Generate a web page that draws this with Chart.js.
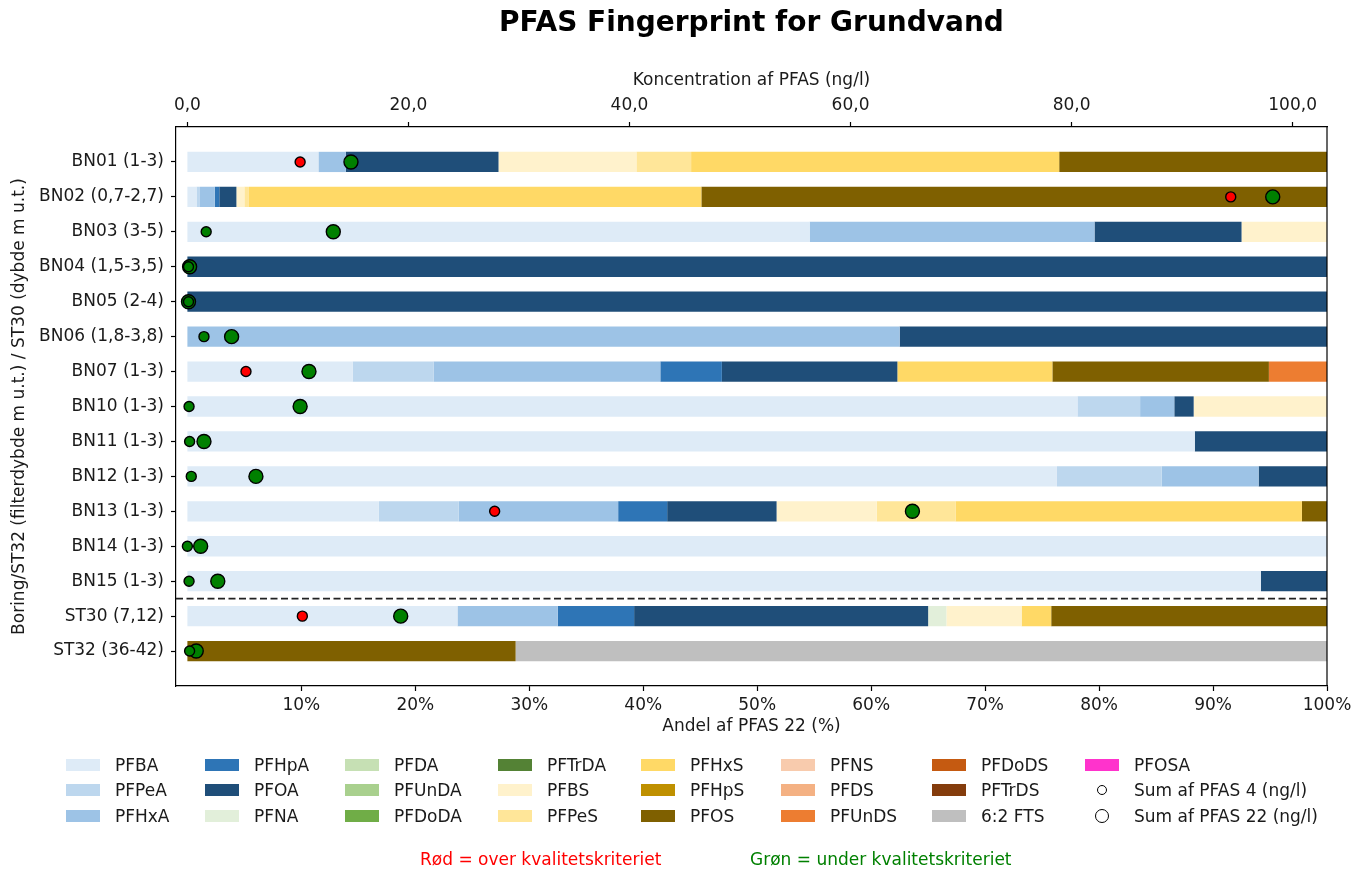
<!DOCTYPE html>
<html lang="da">
<head>
<meta charset="utf-8">
<title>PFAS Fingerprint for Grundvand</title>
<script src="https://cdn.jsdelivr.net/npm/chart.js@4.4.1/dist/chart.umd.min.js"></script>
<style>
  html, body { margin: 0; padding: 0; background: #fff; }
  #wrap { position: relative; width: 1366px; height: 870px; font-family: 'DejaVu Sans', sans-serif; color: #1a1a1a; }
  #pfasChart { position: absolute; left: 0; top: 0; }
  #legend {
    position: absolute; left: 66px; top: 752px;
    display: grid;
    grid-template-columns: 139px 140px 153px 143px 140px 151px 153px auto;
    grid-template-rows: repeat(3, 25.5px);
    grid-auto-flow: column;
    font-size: 17px;
  }
  .item { display: flex; align-items: center; white-space: nowrap; }
  .swatch { width: 34px; height: 12px; margin-right: 15px; flex: none; }
  .mk { width: 34px; height: 16px; margin-right: 15px; flex: none; display: flex; align-items: center; justify-content: center; }
  .mk span { border: 1.5px solid #000; border-radius: 50%; box-sizing: border-box; background: #fff; }
  .note { position: absolute; top: 849px; font-size: 17px; white-space: nowrap; }
</style>
</head>
<body>
<div id="wrap">
  <canvas id="pfasChart" width="1366" height="870"></canvas>
  <div id="legend"></div>
  <div class="note" style="left:420px; color:#ff0000;">Rød = over kvalitetskriteriet</div>
  <div class="note" style="left:750px; color:#008000;">Grøn = under kvalitetskriteriet</div>
</div>
<script>
// boringer / filtre (top til bund)
const sites = ['BN01 (1-3)', 'BN02 (0,7-2,7)', 'BN03 (3-5)', 'BN04 (1,5-3,5)', 'BN05 (2-4)',
  'BN06 (1,8-3,8)', 'BN07 (1-3)', 'BN10 (1-3)', 'BN11 (1-3)', 'BN12 (1-3)', 'BN13 (1-3)',
  'BN14 (1-3)', 'BN15 (1-3)', 'ST30 (7,12)', 'ST32 (36-42)'];

// andel af PFAS 22 (%) pr. stof, samme rækkefølge som sites
const pfba   = [11.5, 0.8, 54.6, 0, 0, 0, 14.5, 78.1, 88.4, 76.3, 16.8, 100, 94.2, 23.7, 0];
const pfpea  = [0, 0.3, 0, 0, 0, 0, 7.1, 5.5, 0, 9.2, 7.0, 0, 0, 0, 0];
const pfhxa  = [2.4, 1.3, 25.0, 0, 0, 62.5, 19.9, 3.0, 0, 8.5, 14.0, 0, 0, 8.8, 0];
const pfhpa  = [0, 0.4, 0, 0, 0, 0, 5.4, 0, 0, 0, 4.3, 0, 0, 6.7, 0];
const pfoa   = [13.4, 1.5, 12.9, 100, 100, 37.5, 15.4, 1.7, 11.6, 6.0, 9.6, 0, 5.8, 25.8, 0];
const pfna   = [0, 0, 0, 0, 0, 0, 0, 0, 0, 0, 0, 0, 0, 1.6, 0];
const pfda   = [0, 0, 0, 0, 0, 0, 0, 0, 0, 0, 0, 0, 0, 0, 0];
const pfunda = [0, 0, 0, 0, 0, 0, 0, 0, 0, 0, 0, 0, 0, 0, 0];
const pfdoda = [0, 0, 0, 0, 0, 0, 0, 0, 0, 0, 0, 0, 0, 0, 0];
const pftrda = [0, 0, 0, 0, 0, 0, 0, 0, 0, 0, 0, 0, 0, 0, 0];
const pfbs   = [12.1, 0.7, 7.5, 0, 0, 0, 0, 11.7, 0, 0, 8.8, 0, 0, 6.6, 0];
const pfpes  = [4.8, 0.4, 0, 0, 0, 0, 0, 0, 0, 0, 6.9, 0, 0, 0, 0];
const pfhxs  = [32.3, 39.7, 0, 0, 0, 0, 13.6, 0, 0, 0, 30.4, 0, 0, 2.6, 0];
const pfhps  = [0, 0, 0, 0, 0, 0, 0, 0, 0, 0, 0, 0, 0, 0, 0];
const pfos   = [23.5, 54.9, 0, 0, 0, 0, 19.0, 0, 0, 0, 2.2, 0, 0, 24.2, 28.8];
const pfns   = [0, 0, 0, 0, 0, 0, 0, 0, 0, 0, 0, 0, 0, 0, 0];
const pfds   = [0, 0, 0, 0, 0, 0, 0, 0, 0, 0, 0, 0, 0, 0, 0];
const pfunds = [0, 0, 0, 0, 0, 0, 5.1, 0, 0, 0, 0, 0, 0, 0, 0];
const pfdods = [0, 0, 0, 0, 0, 0, 0, 0, 0, 0, 0, 0, 0, 0, 0];
const pftrds = [0, 0, 0, 0, 0, 0, 0, 0, 0, 0, 0, 0, 0, 0, 0];
const fts62  = [0, 0, 0, 0, 0, 0, 0, 0, 0, 0, 0, 0, 0, 0, 71.2];
const pfosa  = [0, 0, 0, 0, 0, 0, 0, 0, 0, 0, 0, 0, 0, 0, 0];

// koncentrationer (ng/l)
const sum4  = [10.2, 94.4, 1.7, 0.1, 0.1, 1.5, 5.3, 0.15, 0.2, 0.35, 27.8, 0.0, 0.15, 10.4, 0.2];
const sum22 = [14.8, 98.2, 13.2, 0.2, 0.1, 4.0, 11.0, 10.2, 1.5, 6.2, 65.6, 1.2, 2.75, 19.3, 0.8];
const limit4 = 2;     // kvalitetskriterium sum af PFAS 4
const limit22 = 100;  // kvalitetskriterium sum af PFAS 22

// akse-ticks
const pctTicks = [10, 20, 30, 40, 50, 60, 70, 80, 90, 100];
const concTicks = [0, 20, 40, 60, 80, 100];

const series = [
  { name: 'PFBA',    values: pfba,   color: '#deebf7' },
  { name: 'PFPeA',   values: pfpea,  color: '#bdd7ee' },
  { name: 'PFHxA',   values: pfhxa,  color: '#9dc3e6' },
  { name: 'PFHpA',   values: pfhpa,  color: '#2e75b6' },
  { name: 'PFOA',    values: pfoa,   color: '#1f4e79' },
  { name: 'PFNA',    values: pfna,   color: '#e2efda' },
  { name: 'PFDA',    values: pfda,   color: '#c6e0b4' },
  { name: 'PFUnDA',  values: pfunda, color: '#a9d08e' },
  { name: 'PFDoDA',  values: pfdoda, color: '#70ad47' },
  { name: 'PFTrDA',  values: pftrda, color: '#548235' },
  { name: 'PFBS',    values: pfbs,   color: '#fff2cc' },
  { name: 'PFPeS',   values: pfpes,  color: '#ffe699' },
  { name: 'PFHxS',   values: pfhxs,  color: '#ffd966' },
  { name: 'PFHpS',   values: pfhps,  color: '#bf9000' },
  { name: 'PFOS',    values: pfos,   color: '#7f6000' },
  { name: 'PFNS',    values: pfns,   color: '#f8cbad' },
  { name: 'PFDS',    values: pfds,   color: '#f4b183' },
  { name: 'PFUnDS',  values: pfunds, color: '#ed7d31' },
  { name: 'PFDoDS',  values: pfdods, color: '#c55a11' },
  { name: 'PFTrDS',  values: pftrds, color: '#843c0c' },
  { name: '6:2 FTS', values: fts62,  color: '#bfbfbf' },
  { name: 'PFOSA',   values: pfosa,  color: '#ff33cc' }
];

const RED = '#ff0000', GREEN = '#008000';
const TXT = '#1a1a1a';
Chart.defaults.font.family = "'DejaVu Sans', sans-serif";
Chart.defaults.font.size = 17;
Chart.defaults.color = TXT;

const pctMin = -1, pctMax = 100;
const concMax = Math.max(...sum22) * 1.05;
const sepAt = sites.findIndex(s => s.startsWith('ST')) - 0.5;

const barSets = series.map(s => ({
  type: 'bar',
  label: s.name,
  data: s.values.map((v, i) => ({ x: v, y: i })),
  backgroundColor: s.color,
  borderWidth: 0,
  xAxisID: 'x',
  yAxisID: 'y',
  stack: 'andel',
  barPercentage: 0.58,
  categoryPercentage: 1
}));

const pointSets = [
  { vals: sum4, limit: limit4, label: 'Sum af PFAS 4 (ng/l)', r: 5 },
  { vals: sum22, limit: limit22, label: 'Sum af PFAS 22 (ng/l)', r: 7 }
].map(p => ({
  type: 'scatter',
  label: p.label,
  indexAxis: 'x',
  data: p.vals.map((v, i) => ({ x: v, y: i })),
  xAxisID: 'x2',
  yAxisID: 'y',
  pointRadius: p.r,
  pointHoverRadius: p.r,
  pointBorderWidth: 1.4,
  pointBorderColor: '#000',
  pointBackgroundColor: p.vals.map(v => v > p.limit ? RED : GREEN),
  order: -1
}));

const tickGrid = { display: true, offset: false, drawOnChartArea: false, drawTicks: true, tickLength: 5, tickColor: '#000', tickWidth: 1.2 };
const axisBorder = { display: true, color: '#000', width: 1.2 };

const extras = {
  id: 'extras',
  afterDatasetsDraw(chart) {
    const { ctx, chartArea, scales } = chart;
    const y = scales.y.getPixelForValue(sepAt);
    ctx.save();
    ctx.strokeStyle = '#222';
    ctx.lineWidth = 1.6;
    ctx.setLineDash([7, 3.5]);
    ctx.beginPath();
    ctx.moveTo(chartArea.left, y);
    ctx.lineTo(chartArea.right, y);
    ctx.stroke();
    ctx.setLineDash([]);
    ctx.strokeStyle = '#000';
    ctx.lineWidth = 1.2;
    ctx.beginPath();
    ctx.moveTo(chartArea.right, chartArea.top);
    ctx.lineTo(chartArea.right, chartArea.bottom);
    ctx.stroke();
    ctx.restore();
  }
};

new Chart(document.getElementById('pfasChart'), {
  type: 'bar',
  data: { datasets: [...pointSets, ...barSets] },
  options: {
    indexAxis: 'y',
    responsive: false,
    animation: false,
    layout: { padding: { left: 0, right: 39, top: 0, bottom: 133 } },
    plugins: {
      legend: { display: false },
      tooltip: { enabled: false },
      title: {
        display: true,
        fullSize: false,
        text: 'PFAS Fingerprint for Grundvand',
        color: '#000',
        font: { size: 28, weight: 'bold' },
        padding: { top: 7, bottom: 5 }
      }
    },
    scales: {
      x: {
        type: 'linear', position: 'bottom', stacked: true, offset: false,
        min: pctMin, max: pctMax,
        grid: tickGrid, border: axisBorder,
        afterBuildTicks: s => { s.ticks = pctTicks.map(v => ({ value: v })); },
        ticks: { callback: v => v + '%', padding: 4, autoSkip: false, maxRotation: 0, color: TXT },
        title: { display: true, text: 'Andel af PFAS 22 (%)', color: TXT, padding: { top: 0, bottom: 0 } },
        afterFit: s => { s.height = 51; }
      },
      x2: {
        type: 'linear', position: 'top', offset: false,
        min: concMax * pctMin / pctMax, max: concMax,
        grid: tickGrid, border: axisBorder,
        afterBuildTicks: s => { s.ticks = concTicks.map(v => ({ value: v })); },
        ticks: { callback: v => v.toFixed(1).replace('.', ','), padding: 6, autoSkip: false, maxRotation: 0, color: TXT },
        title: { display: true, text: 'Koncentration af PFAS (ng/l)', color: TXT, padding: { top: 25, bottom: 0 } },
        afterFit: s => { s.height = 81.4; }
      },
      y: {
        type: 'linear', position: 'left', reverse: true, offset: false,
        min: -1, max: sites.length,
        grid: tickGrid, border: axisBorder,
        afterBuildTicks: s => { s.ticks = sites.map((_, i) => ({ value: i })); },
        ticks: { callback: v => sites[v], padding: 7, autoSkip: false, color: TXT },
        title: { display: true, text: 'Boring/ST32 (filterdybde m u.t.) / ST30 (dybde m u.t.)', color: TXT, padding: { top: 9, bottom: 0 } },
        afterFit: s => { s.width = 176; }
      }
    }
  },
  plugins: [extras]
});

// forklaring i kolonner (udfyldes kolonnevis som i matplotlib)
const legendEl = document.getElementById('legend');
series.forEach(s => {
  const it = document.createElement('div');
  it.className = 'item';
  it.innerHTML = '<div class="swatch" style="background:' + s.color + '"></div>' + s.name;
  legendEl.appendChild(it);
});
pointSets.forEach(p => {
  const d = p.pointRadius * 2;
  const it = document.createElement('div');
  it.className = 'item';
  it.innerHTML = '<div class="mk"><span style="width:' + d + 'px;height:' + d + 'px"></span></div>' + p.label;
  legendEl.appendChild(it);
});
</script>
</body>
</html>
